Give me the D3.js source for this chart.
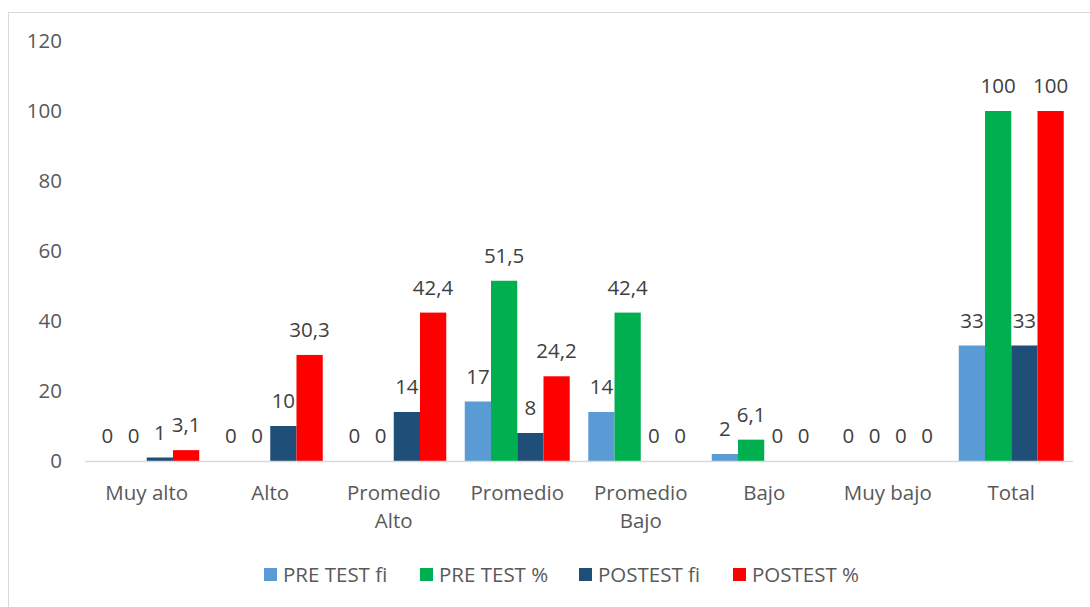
<!DOCTYPE html>
<html>
<head>
<meta charset="utf-8">
<script src="https://cdn.jsdelivr.net/npm/d3@7"></script>
<style>
body { margin: 0; background: #fff; }
svg { display: block; }
</style>
</head>
<body>
<script>
var categories = [["Muy alto"], ["Alto"], ["Promedio", "Alto"], ["Promedio"], ["Promedio", "Bajo"], ["Bajo"], ["Muy bajo"], ["Total"]];
var seriesNames = ["PRE TEST fi", "PRE TEST %", "POSTEST fi", "POSTEST %"];
var seriesColors = ["#5b9bd5", "#00b050", "#1f4e79", "#ff0000"];
var preFi = [0, 0, 0, 17, 14, 2, 0, 33];
var prePct = [0, 0, 0, 51.5, 42.4, 6.1, 0, 100];
var postFi = [1, 10, 14, 8, 0, 0, 0, 33];
var postPct = [3.1, 30.3, 42.4, 24.2, 0, 0, 0, 100];
var yTicks = [0, 20, 40, 60, 80, 100, 120];

var series = [preFi, prePct, postFi, postPct];
var fontFam = "'Open Sans', sans-serif";
var fs = "20.5px";

var svg = d3.select("body").append("svg")
    .attr("width", 1090)
    .attr("height", 607);

// chart border
svg.append("rect")
    .attr("x", 8.5).attr("y", 12.5)
    .attr("width", 1095).attr("height", 610)
    .attr("fill", "none")
    .attr("stroke", "#d9d9d9");

var plotLeft = 85, plotRight = 1073, plotTop = 41, plotBottom = 461;

var x = d3.scaleBand()
    .domain(d3.range(categories.length))
    .range([plotLeft, plotRight])
    .paddingInner(0.15)
    .paddingOuter(0.075);

var xs = d3.scaleBand()
    .domain(d3.range(series.length))
    .range([0, x.bandwidth()]);

var y = d3.scaleLinear()
    .domain([0, 120])
    .range([plotBottom, plotTop]);

// y axis labels
svg.selectAll(".ytick")
    .data(yTicks)
    .enter()
    .append("text")
    .attr("x", 62)
    .attr("y", function(d) { return y(d); })
    .attr("dy", "0.35em")
    .attr("text-anchor", "end")
    .attr("font-family", fontFam)
    .attr("font-size", fs)
    .attr("fill", "#595959")
    .text(function(d) { return d; });

// bars
var groups = svg.selectAll(".grp")
    .data(series)
    .enter()
    .append("g")
    .attr("fill", function(d, i) { return seriesColors[i]; });

groups.each(function(vals, si) {
    var g = d3.select(this);
    g.selectAll("rect")
        .data(vals)
        .enter()
        .append("rect")
        .attr("x", function(d, ci) { return x(ci) + xs(si); })
        .attr("y", function(d) { return y(d); })
        .attr("width", xs.bandwidth())
        .attr("height", function(d) { return y(0) - y(d); });
    g.selectAll("text")
        .data(vals)
        .enter()
        .append("text")
        .attr("x", function(d, ci) { return x(ci) + xs(si) + xs.bandwidth() / 2; })
        .attr("y", function(d) { return y(d) - 18; })
        .attr("text-anchor", "middle")
        .attr("font-family", fontFam)
        .attr("font-size", fs)
        .attr("fill", "#404040")
        .text(function(d) { return String(d).replace(".", ","); });
});

// baseline
svg.append("line")
    .attr("x1", plotLeft).attr("x2", plotRight)
    .attr("y1", plotBottom + 0.5).attr("y2", plotBottom + 0.5)
    .attr("stroke", "#d9d9d9")
    .attr("stroke-width", 1.5);

// category labels
var catText = svg.selectAll(".cat")
    .data(categories)
    .enter()
    .append("text")
    .attr("text-anchor", "middle")
    .attr("font-family", fontFam)
    .attr("font-size", fs)
    .attr("fill", "#595959");

catText.selectAll("tspan")
    .data(function(d, i) { return d.map(function(t) { return {t: t, i: i}; }); })
    .enter()
    .append("tspan")
    .attr("x", function(d) { return x(d.i) + x.bandwidth() / 2; })
    .attr("y", function(d, j) { return 500 + j * 28; })
    .text(function(d) { return d.t; });

// legend
var legendX = [264, 420, 579, 733];
var legend = svg.selectAll(".leg")
    .data(seriesNames)
    .enter()
    .append("g")
    .attr("transform", function(d, i) { return "translate(" + legendX[i] + ",575)"; });

legend.append("rect")
    .attr("x", 0).attr("y", -7)
    .attr("width", 13).attr("height", 13)
    .attr("fill", function(d, i) { return seriesColors[i]; });

legend.append("text")
    .attr("x", 19)
    .attr("y", 0)
    .attr("dy", "0.35em")
    .attr("font-family", fontFam)
    .attr("font-size", fs)
    .attr("fill", "#595959")
    .text(function(d) { return d; });
</script>
</body>
</html>
